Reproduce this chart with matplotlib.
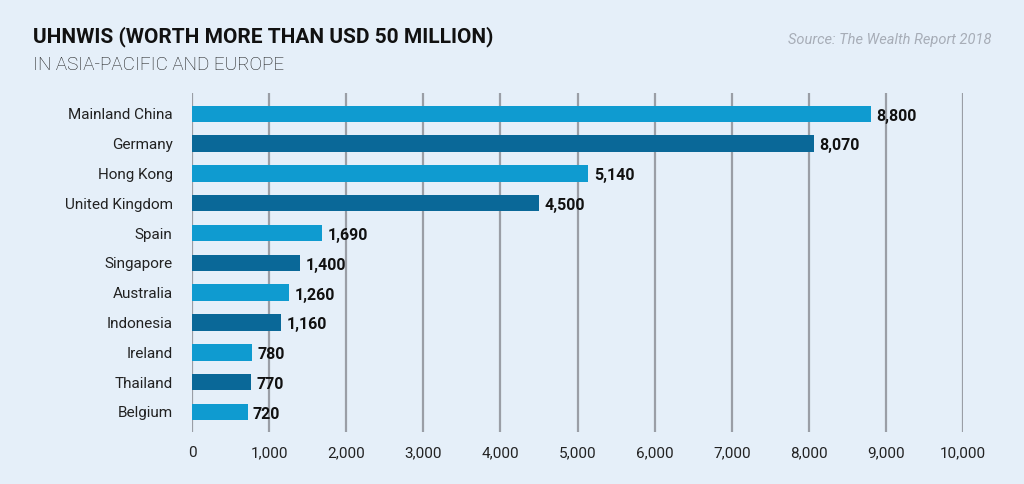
import matplotlib.pyplot as plt

countries = ['Mainland China', 'Germany', 'Hong Kong', 'United Kingdom', 'Spain',
             'Singapore', 'Australia', 'Indonesia', 'Ireland', 'Thailand', 'Belgium']
uhnwis = [8800, 8070, 5140, 4500, 1690, 1400, 1260, 1160, 780, 770, 720]
x_ticks = list(range(0, 10001, 1000))

bg = '#e5eff9'
light = '#0f9bd0'
dark = '#0a6898'

plt.rcParams['font.family'] = ['Roboto', 'DejaVu Sans']

fig = plt.figure(figsize=(10.24, 4.84), dpi=100, facecolor=bg)
ax = fig.add_axes([0.1875, 0.107, 0.753, 0.701], facecolor=bg)

ypos = list(range(len(countries)))
colors = [light if i % 2 == 0 else dark for i in ypos]
ax.barh(ypos, uhnwis, height=0.55, color=colors, zorder=3)

for y, v in zip(ypos, uhnwis):
    ax.text(v + 70, y + 0.08, f'{v:,}', va='center', ha='left',
            fontsize=11.5, fontweight='bold', color='#111111', zorder=4)

ax.set_xlim(0, 10000)
ax.set_ylim(10.68, -0.70)
ax.set_xticks(x_ticks)
ax.set_xticklabels([f'{t:,}' for t in x_ticks])
ax.set_yticks(ypos)
ax.set_yticklabels(countries)
ax.tick_params(axis='both', length=0, labelsize=11, colors='#222222')
ax.tick_params(axis='x', pad=10)
ax.tick_params(axis='y', pad=14)
ax.grid(axis='x', color='#9a9ea6', linewidth=1.6, zorder=1)
for s in ax.spines.values():
    s.set_visible(False)

fig.text(0.032, 0.925, 'UHNWIS (WORTH MORE THAN USD 50 MILLION)',
         fontsize=15, fontweight='bold', color='#111111', va='center')
fig.text(0.032, 0.866, 'IN ASIA-PACIFIC AND EUROPE',
         fontsize=13.5, fontweight='light', color='#151515', va='center')
fig.text(0.968, 0.918, 'Source: The Wealth Report 2018',
         fontsize=10.5, style='italic', color='#a7adb7', ha='right', va='center')

fig.savefig('out.png', dpi=100, facecolor=bg)
